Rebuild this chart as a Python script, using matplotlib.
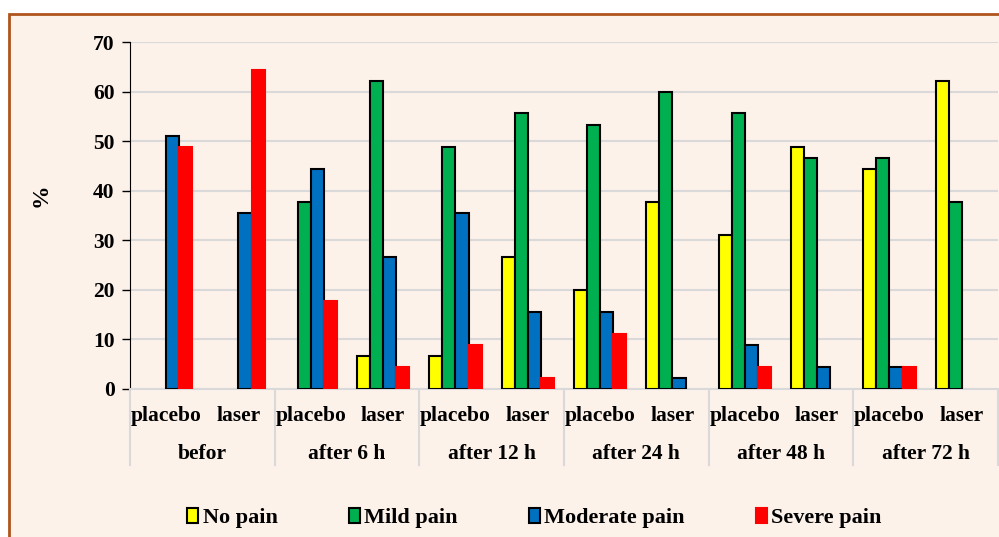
import matplotlib
matplotlib.use('Agg')
import matplotlib.pyplot as plt
import matplotlib.transforms as mtransforms
import numpy as np
from matplotlib.patches import Rectangle, Patch
from matplotlib.lines import Line2D

groups = ['befor', 'after 6 h', 'after 12 h', 'after 24 h', 'after 48 h', 'after 72 h']
arms = ['placebo', 'laser']
series = ['No pain', 'Mild pain', 'Moderate pain', 'Severe pain']
no_pain       = [0, 0, 0, 6.7, 6.7, 26.7, 20.0, 37.8, 31.1, 48.9, 44.4, 62.2]
mild_pain     = [0, 0, 37.8, 62.2, 48.9, 55.6, 53.3, 60.0, 55.6, 46.7, 46.7, 37.8]
moderate_pain = [51.1, 35.6, 44.4, 26.7, 35.6, 15.6, 15.6, 2.2, 8.9, 4.4, 4.4, 0]
severe_pain   = [48.9, 64.4, 17.8, 4.4, 8.9, 2.2, 11.1, 0, 4.4, 0, 4.4, 0]

colors = ['#FFFF00', '#00B050', '#0070C0', '#FF0000']
edges  = ['black', 'black', 'black', '#FF0000']
bg     = '#FDF2EA'
grid_c = '#D9D9D9'

plt.rcParams['font.family'] = 'Liberation Serif'
plt.rcParams['font.weight'] = 'bold'
plt.rcParams['axes.labelweight'] = 'bold'

fig = plt.figure(figsize=(9.99, 5.37), dpi=100)
fig.patch.set_facecolor('white')
fig.patches.append(Rectangle((9/999, -0.01), 1.0, (537-14)/537 + 0.01,
                             transform=fig.transFigure, facecolor=bg,
                             edgecolor='#B0541E', linewidth=2, zorder=-10))

ax = fig.add_axes([130/999, (537-389)/537, 868/999, 347/537])
ax.set_facecolor(bg)

x = np.arange(len(groups) * len(arms))
w = 0.18
all_series = [no_pain, mild_pain, moderate_pain, severe_pain]
for i, vals in enumerate(all_series):
    vals = np.array(vals, dtype=float)
    keep = vals > 0
    ax.bar(x[keep] + (i - 1.5) * w, vals[keep], width=w, color=colors[i],
           edgecolor=edges[i], linewidth=1.5, zorder=3)

ax.set_xlim(-0.5, len(x) - 0.5)
ax.set_ylim(0, 70)
ax.set_yticks(range(0, 71, 10))
ax.tick_params(axis='y', labelsize=15.5, length=6, width=1, pad=5)
ax.yaxis.grid(True, color=grid_c, linewidth=1.5, zorder=0)
ax.set_ylabel('%', fontsize=17, fontweight='bold')
ax.yaxis.set_label_coords(-78/868, (389-195)/347)

for s in ['top', 'right']:
    ax.spines[s].set_visible(False)
ax.spines['left'].set_color('black')
ax.spines['bottom'].set_color(grid_c)
ax.spines['bottom'].set_linewidth(1.5)

ax.set_xticks(x)
ax.set_xticklabels(arms * len(groups), fontsize=15.5)
ax.tick_params(axis='x', length=0, pad=12)

trans = mtransforms.blended_transform_factory(ax.transData, ax.transAxes)
for g in range(len(groups) + 1):
    ax.add_line(Line2D([2 * g - 0.5, 2 * g - 0.5], [0, -76/347], transform=trans,
                       color=grid_c, linewidth=1.5, clip_on=False))
for g, name in enumerate(groups):
    ax.text(2 * g + 0.5, -65/347, name, transform=trans, ha='center', va='center',
            fontsize=15.5)

handles = [Patch(facecolor=colors[i], edgecolor=edges[i], linewidth=1.5) for i in range(4)]
fig.legend(handles, series, loc='center', bbox_to_anchor=(0.535, (537-518)/537),
           ncol=4, frameon=False, fontsize=16, handlelength=0.5, handleheight=0.7,
           handletextpad=0.2, columnspacing=3.2)

fig.savefig('out.png', dpi=100, facecolor='white')
